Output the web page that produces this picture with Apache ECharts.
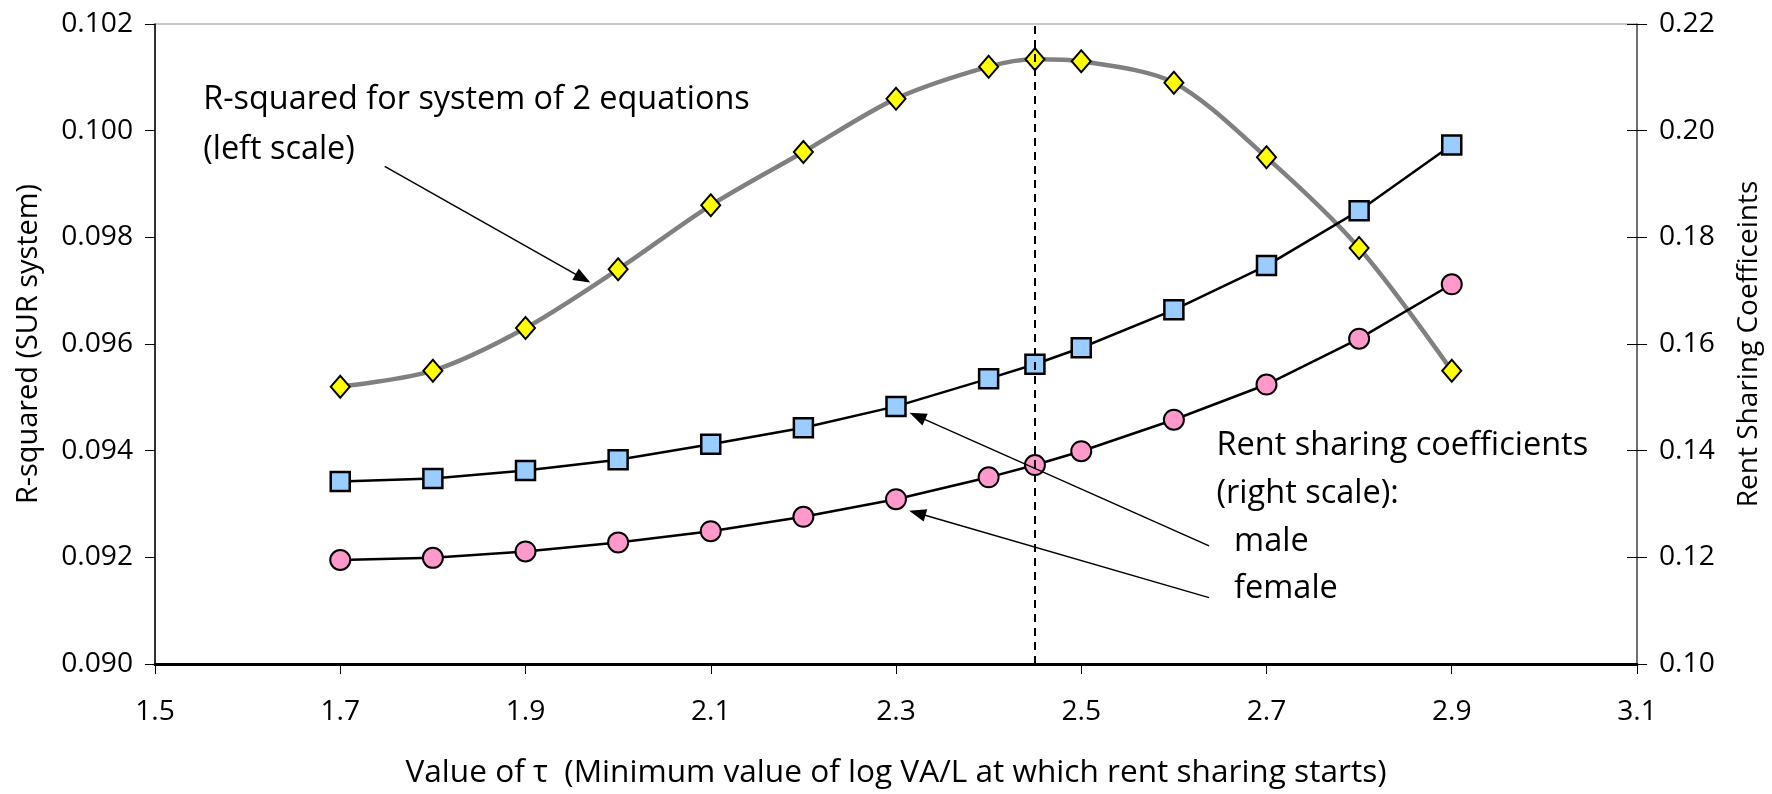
<!DOCTYPE html>
<html><head><meta charset="utf-8">
<script src="https://cdn.jsdelivr.net/npm/echarts@6/dist/echarts.min.js"></script>
<style>html,body{margin:0;padding:0;background:#fff}#c{width:1772px;height:794px}</style>
</head><body><div id="c"></div>
<script>
const tau = [1.7, 1.8, 1.9, 2.0, 2.1, 2.2, 2.3, 2.4, 2.45, 2.5, 2.6, 2.7, 2.8, 2.9];
const rSquared = [0.0952, 0.0955, 0.0963, 0.0974, 0.0986, 0.0996, 0.1006, 0.1012, 0.10134, 0.1013, 0.1009, 0.0995, 0.0978, 0.0955];
const maleCoef = [0.1342, 0.1348, 0.1363, 0.1383, 0.1412, 0.1443, 0.1483, 0.1535, 0.1562, 0.1593, 0.1664, 0.1747, 0.1850, 0.1973];
const femaleCoef = [0.1195, 0.1199, 0.1211, 0.1228, 0.1249, 0.1276, 0.1309, 0.1350, 0.1373, 0.1399, 0.1458, 0.1524, 0.1610, 0.1712];
const optimalTau = 2.45;
const xTitle = 'Value of τ  (Minimum value of log VA/L at which rent sharing starts)';
const yLeftTitle = 'R-squared (SUR system)';
const yRightTitle = 'Rent Sharing Coefficeints';

const FONT = 'Open Sans';
const ctx = document.createElement('canvas').getContext('2d');
const measure = (t, s) => { ctx.font = s + 'px "' + FONT + '"'; return ctx.measureText(t).width; };
const fit = (t, px) => Math.round(20 * px / measure(t, 20) * 10) / 10;

const pair = (xs, ys) => xs.map((x, i) => [x, ys[i]]);
const chart = echarts.init(document.getElementById('c'));
const arrowLine = (a, b) => [{coord: a}, {coord: b}];

const tickSize = fit('0.102', 72);
const xTitleSize = fit(xTitle, 982);
const yLeftSize = fit(yLeftTitle, 320);
const yRightSize = fit(yRightTitle, 326);

chart.setOption({
  animation: false,
  textStyle: {fontFamily: FONT, color: '#000'},
  grid: {left: 155, right: 135, top: 24, bottom: 127, show: true, borderColor: '#8c8c8c', borderWidth: 1},
  xAxis: {
    type: 'value', min: 1.5, max: 3.1, interval: 0.2,
    name: xTitle, nameLocation: 'middle', nameGap: 93,
    nameTextStyle: {fontSize: xTitleSize, fontFamily: FONT, color: '#000'},
    axisLine: {lineStyle: {color: '#000', width: 3}},
    axisTick: {show: true, length: 10, lineStyle: {color: '#000', width: 1}},
    axisLabel: {fontSize: tickSize, margin: 34, color: '#000', fontFamily: FONT, formatter: v => v.toFixed(1)},
    splitLine: {show: false}
  },
  yAxis: [{
    type: 'value', min: 0.090, max: 0.102, interval: 0.002, position: 'left',
    name: yLeftTitle, nameLocation: 'middle', nameRotate: 90, nameGap: 112,
    nameTextStyle: {fontSize: yLeftSize, fontFamily: FONT, color: '#000'},
    axisLine: {show: true, lineStyle: {color: '#000', width: 1.5}},
    axisTick: {show: true, length: 10, lineStyle: {color: '#000'}},
    axisLabel: {fontSize: tickSize, margin: 22, color: '#000', fontFamily: FONT, formatter: v => v.toFixed(3)},
    splitLine: {show: false}
  }, {
    type: 'value', min: 0.10, max: 0.22, interval: 0.02, position: 'right',
    name: yRightTitle, nameLocation: 'middle', nameRotate: 90, nameGap: 98,
    nameTextStyle: {fontSize: yRightSize, fontFamily: FONT, color: '#000'},
    axisLine: {show: true, lineStyle: {color: '#555', width: 1.5}},
    axisTick: {show: true, length: 10, lineStyle: {color: '#000'}},
    axisLabel: {fontSize: tickSize, margin: 22, color: '#000', fontFamily: FONT, formatter: v => v.toFixed(2)},
    splitLine: {show: false}
  }, {
    type: 'value', min: 0.10, max: 0.22, interval: 0.02, position: 'right',
    axisLine: {show: false},
    axisTick: {show: true, inside: true, length: 10, lineStyle: {color: '#000'}},
    axisLabel: {show: false},
    splitLine: {show: false}
  }],
  series: [{
    name: 'R-squared', type: 'line', yAxisIndex: 0, smooth: 0.3, z: 3,
    data: pair(tau, rSquared),
    lineStyle: {color: '#808080', width: 4.5},
    symbol: 'diamond', symbolSize: [19, 22],
    itemStyle: {color: '#ffff00', borderColor: '#000', borderWidth: 2},
    markLine: {
      silent: true, symbol: ['none', 'none'], label: {show: false},
      lineStyle: {color: '#000', type: [8, 6], width: 2},
      data: [{xAxis: optimalTau}]
    }
  }, {
    name: 'male', type: 'line', yAxisIndex: 1, z: 4,
    data: pair(tau, maleCoef),
    lineStyle: {color: '#000', width: 2.5},
    symbol: 'rect', symbolSize: 19,
    itemStyle: {color: '#99ccff', borderColor: '#000', borderWidth: 2.5}
  }, {
    name: 'female', type: 'line', yAxisIndex: 1, z: 4,
    data: pair(tau, femaleCoef),
    lineStyle: {color: '#000', width: 2.5},
    symbol: 'circle', symbolSize: 20,
    itemStyle: {color: '#ff99cc', borderColor: '#000', borderWidth: 2}
  }, {
    name: 'annotations', type: 'line', yAxisIndex: 0, data: [], z: 5,
    markLine: {
      silent: true, symbol: ['none', 'triangle'], symbolSize: [13, 17], label: {show: false},
      lineStyle: {color: '#000', type: 'solid', width: 1.5},
      data: [
        arrowLine([1.748, 0.09933], [1.962, 0.09723]),
        arrowLine([2.638, 0.092215], [2.323, 0.094647]),
        arrowLine([2.638, 0.091245], [2.323, 0.092831])
      ]
    }
  }]
});

const toPx = (x, y) => chart.convertToPixel({xAxisIndex: 0, yAxisIndex: 0}, [x, y]);
const annoLeft = 'R-squared for system of 2 equations';
const annoRight = 'Rent sharing coefficients';
const leftSize = fit(annoLeft, toPx(2.142, 0.1)[0] - toPx(1.552, 0.1)[0]);
const rightSize = fit(annoRight, toPx(3.047, 0.1)[0] - toPx(2.646, 0.1)[0]);
const txt = (x, y, text, size) => {
  const p = toPx(x, y);
  return {type: 'text', x: p[0], y: p[1], z: 10,
    style: {text: text, fontSize: size, fontFamily: FONT, fill: '#000', verticalAlign: 'middle', textVerticalAlign: 'middle'}};
};
chart.setOption({graphic: [
  txt(1.552, 0.10058, annoLeft, leftSize),
  txt(1.552, 0.09964, '(left scale)', leftSize),
  txt(2.646, 0.09410, annoRight, rightSize),
  txt(2.646, 0.09320, '(right scale):', rightSize),
  txt(2.665, 0.09230, 'male', rightSize),
  txt(2.665, 0.09142, 'female', rightSize)
]});
</script></body></html>
